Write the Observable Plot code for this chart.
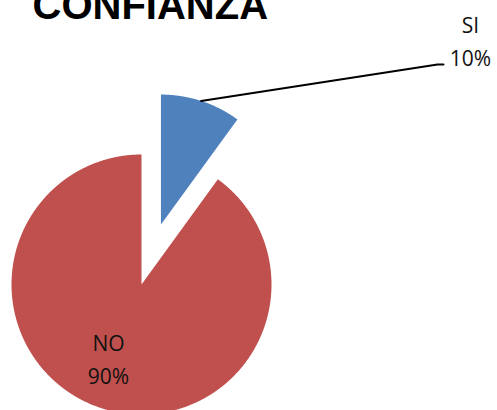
<!DOCTYPE html>
<html>
<head>
<meta charset="utf-8">
<script src="https://cdn.jsdelivr.net/npm/d3@7"></script>
<script src="https://cdn.jsdelivr.net/npm/@observablehq/plot@0.6"></script>
<style>
  html, body { margin: 0; padding: 0; background: #fff; }
  #chart svg { display: block; overflow: visible; }
</style>
</head>
<body>
<div id="chart"></div>
<script>
const title = "CONFIANZA";
const categories = ["SI", "NO"];
const values = [10, 90];
const percentLabels = ["10%", "90%"];
const colors = ["#4F81BD", "#C0504D"];

const W = 497, H = 410;
const CX = 141, CY = 284, R = 130;           // pie centre / radius in pixels
const toU = px => (px - CX) / R;               // pixel -> unit radius coords
const toV = py => (CY - py) / R;
const explode = [63 / R, 0];                    // SI slice pulled out

const arcs = d3.pie().sort(null).value(d => d.value)(
  categories.map((c, i) => ({cat: c, value: values[i], pct: percentLabels[i]}))
);

const points = [];
arcs.forEach((a, i) => {
  const mid = (a.startAngle + a.endAngle) / 2;
  const ox = explode[i] * Math.sin(mid), oy = explode[i] * Math.cos(mid);
  a.ox = ox; a.oy = oy; a.mid = mid;
  points.push({cat: a.data.cat, u: ox, v: oy});
  const n = Math.max(8, Math.ceil((a.endAngle - a.startAngle) / 0.005));
  for (let k = 0; k <= n; ++k) {
    const t = a.startAngle + (a.endAngle - a.startAngle) * k / n;
    points.push({cat: a.data.cat, u: ox + Math.sin(t), v: oy + Math.cos(t)});
  }
  points.push({cat: a.data.cat, u: ox, v: oy});
});

// leader line for SI
const si = arcs[0];
const leader = [
  {u: si.ox + Math.sin(si.mid), v: si.oy + Math.cos(si.mid)},
  {u: toU(437), v: toV(64)},
  {u: toU(443), v: toV(64)}
];

const labelPos = {SI: [470, 32, 65], NO: [108, 350, 383]};
const labels = [];
arcs.forEach(a => {
  const p = labelPos[a.data.cat];
  labels.push({text: a.data.cat, u: toU(p[0]), v: toV(p[1])});
  labels.push({text: a.data.pct, u: toU(p[0]), v: toV(p[2])});
});

const font = "'Open Sans', 'DejaVu Sans', sans-serif";

const chart = Plot.plot({
  width: W, height: H,
  margin: 0,
  style: {background: "#fff", overflow: "visible"},
  x: {domain: [toU(0), toU(W)], range: [0, W], axis: null},
  y: {domain: [toV(H), toV(0)], range: [H, 0], axis: null},
  color: {domain: categories, range: colors},
  marks: [
    Plot.line(points, {x: "u", y: "v", z: "cat", fill: "cat", stroke: "none", curve: "linear"}),
    Plot.line(leader, {x: "u", y: "v", stroke: "#000", strokeWidth: 2}),
    Plot.text(labels, {x: "u", y: "v", text: "text", textAnchor: "middle", lineAnchor: "bottom",
      fontSize: 21, fontFamily: font, fill: "#111"}),
    Plot.text([title], {frameAnchor: "top-left", dx: 32, dy: 18, textAnchor: "start", lineAnchor: "bottom",
      fontSize: 40, fontWeight: "bold", fontFamily: "'Liberation Sans', Arial, sans-serif", fill: "#000"})
  ]
});
document.getElementById("chart").appendChild(chart);
</script>
</body>
</html>
